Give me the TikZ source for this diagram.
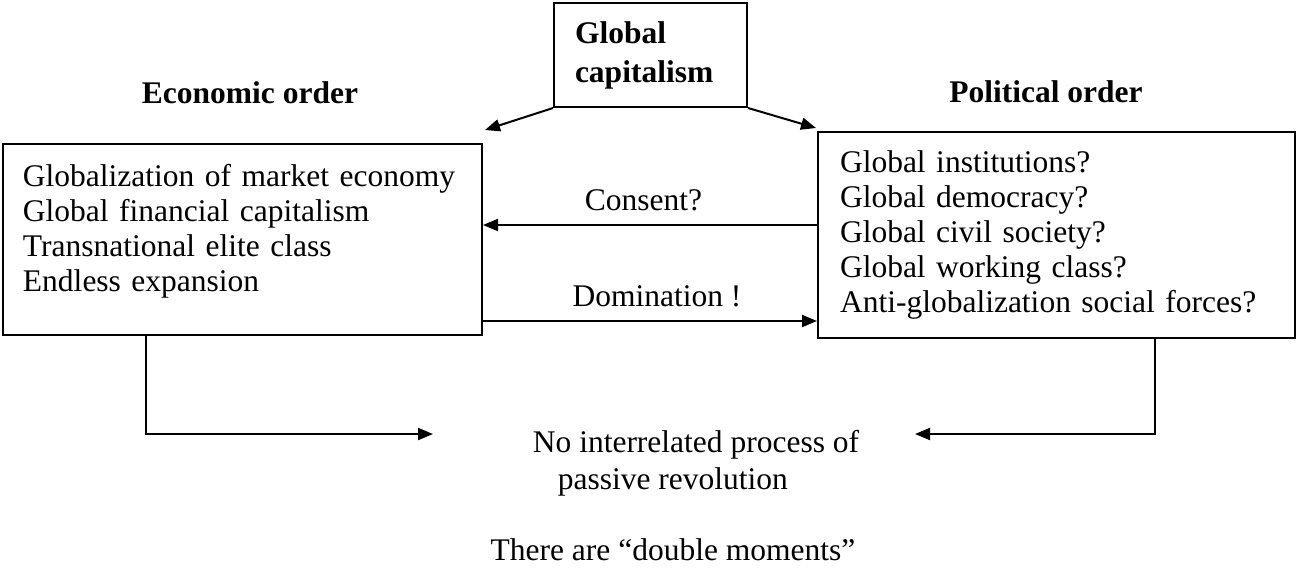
\documentclass[tikz,border=0pt]{standalone}
\usepackage{fontspec}
\setmainfont{Liberation Serif}
\usetikzlibrary{arrows.meta}
\usetikzlibrary{positioning}

\begin{document}
\begin{tikzpicture}[x=0.4pt, y=-0.4pt,
    font=\fontsize{12.6}{14}\selectfont,
    >={Triangle[length=6pt,width=4.8pt]},
    box/.style={draw, rectangle, line width=0.8pt, align=left},
    link/.style={->, line width=0.8pt}]
  \useasboundingbox (0,0) rectangle (1298,567);
  \node[box, font=\fontsize{12.6}{15.6}\selectfont\bfseries, minimum width=77.2pt,
        minimum height=41.6pt, inner xsep=8.4pt, text width=60.4pt] (cap) at (650.5,55)
        {Global\\capitalism};
  \node (econ) at (250,93) {\bfseries Economic order};
  \node (polit) at (1046,92) {\bfseries Political order};
  \node[box, minimum width=191.6pt, minimum height=76.4pt, inner xsep=8pt,
        text width=175.6pt, text depth=51.6pt] (econbox) at (242.5,239.5)
        {Globalization of market economy\\Global financial capitalism\\
         Transnational elite class\\Endless expansion};
  \node[box, minimum width=190.8pt, minimum height=82.4pt, inner xsep=8.8pt,
        text width=173.2pt] (politbox) at (1056.5,235)
        {Global institutions?\\Global democracy?\\Global civil society?\\
         Global working class?\\Anti-globalization social forces?};
  \node[align=left] (outcome) at (696,463)
        {No interrelated process of\\[0.8pt]\hspace*{10pt}passive revolution};
  \node (moments) at (673,550) {There are “double moments”};
  \coordinate (econtip) at (485,130);
  \coordinate (polittip) at (816,128);
  \coordinate (lefttip) at (433,434);
  \coordinate (righttip) at (915,434);
  % top box to the two orders
  \draw[link] (cap.south west) -- (econtip);
  \draw[link] (cap.south east) -- (polittip);
  % between the orders
  \draw[link] ([yshift=4pt]politbox.west) -- ([yshift=4pt]politbox.west -| econbox.east)
        node[midway, above=2pt, xshift=-2.6pt] (consent) {Consent?};
  \draw[link] ([yshift=6pt]econbox.south east) -- ([yshift=6pt]econbox.south east -| politbox.west)
        node[midway, above=2pt, xshift=2.8pt] (domin) {Domination !};
  % down to the outcome
  \draw[link] ([xshift=-38.6pt]econbox.south) |- (lefttip);
  \draw[link] ([xshift=39.4pt]politbox.south) |- (righttip);
\end{tikzpicture}
\end{document}
